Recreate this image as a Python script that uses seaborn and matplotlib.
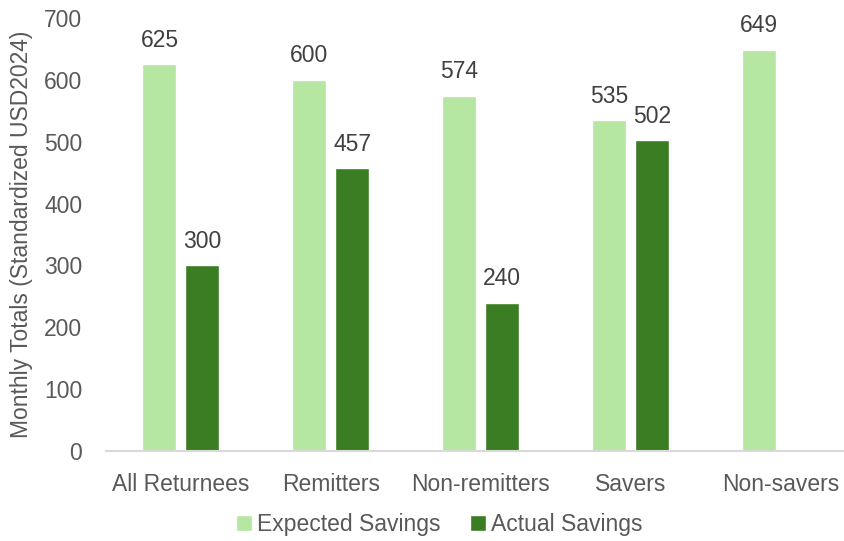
import pandas as pd
import seaborn as sns
import matplotlib.pyplot as plt
import numpy as np

# chart data
categories = ["All Returnees", "Remitters", "Non-remitters", "Savers", "Non-savers"]
expected = [625, 600, 574, 535, 649]
actual = [300, 457, 240, 502, np.nan]
series = ["Expected Savings", "Actual Savings"]
colors = ["#B5E6A2", "#3B7D23"]

df = pd.DataFrame({
    "category": categories * 2,
    "series": [series[0]] * len(categories) + [series[1]] * len(categories),
    "value": expected + actual,
})

sns.set_theme(style="white")
plt.rcParams["font.family"] = ["Liberation Sans", "DejaVu Sans"]

fig = plt.figure(figsize=(8.45, 5.41), dpi=100)
ax = fig.add_axes([0.1254, 0.1664, 0.8746, 0.8003])

sns.barplot(data=df, x="category", y="value", hue="series", order=categories,
            hue_order=series, palette=colors, width=0.573, gap=0.21,
            saturation=1, ax=ax, legend=True)

for cont in ax.containers:
    ax.bar_label(cont, fmt="%.0f", padding=9, fontsize=16.5, color="#404040")

ax.set_ylim(0, 700)
ax.set_yticks(range(0, 701, 100))
ax.set_xlim(-0.5, 4.43)
ax.set_xlabel("")
ax.set_ylabel("Monthly Totals (Standardized USD2024)", fontsize=16.5, color="#595959", labelpad=8)
ax.tick_params(axis="both", length=0, labelsize=16.5, labelcolor="#595959")
ax.tick_params(axis="y", pad=17)
ax.tick_params(axis="x", pad=16)
for s in ["top", "right", "left"]:
    ax.spines[s].set_visible(False)
ax.spines["bottom"].set_color("#D9D9D9")
ax.spines["bottom"].set_linewidth(1.5)

handles, labels = ax.get_legend_handles_labels()
ax.get_legend().remove()
fig.legend(handles, labels, loc="center", bbox_to_anchor=(0.52, 0.03), ncol=2,
           frameon=False, fontsize=16.5, labelcolor="#595959", handlelength=0.7,
           handleheight=0.7, handletextpad=0.2, columnspacing=1.3)

fig.savefig("out.png", dpi=100)
